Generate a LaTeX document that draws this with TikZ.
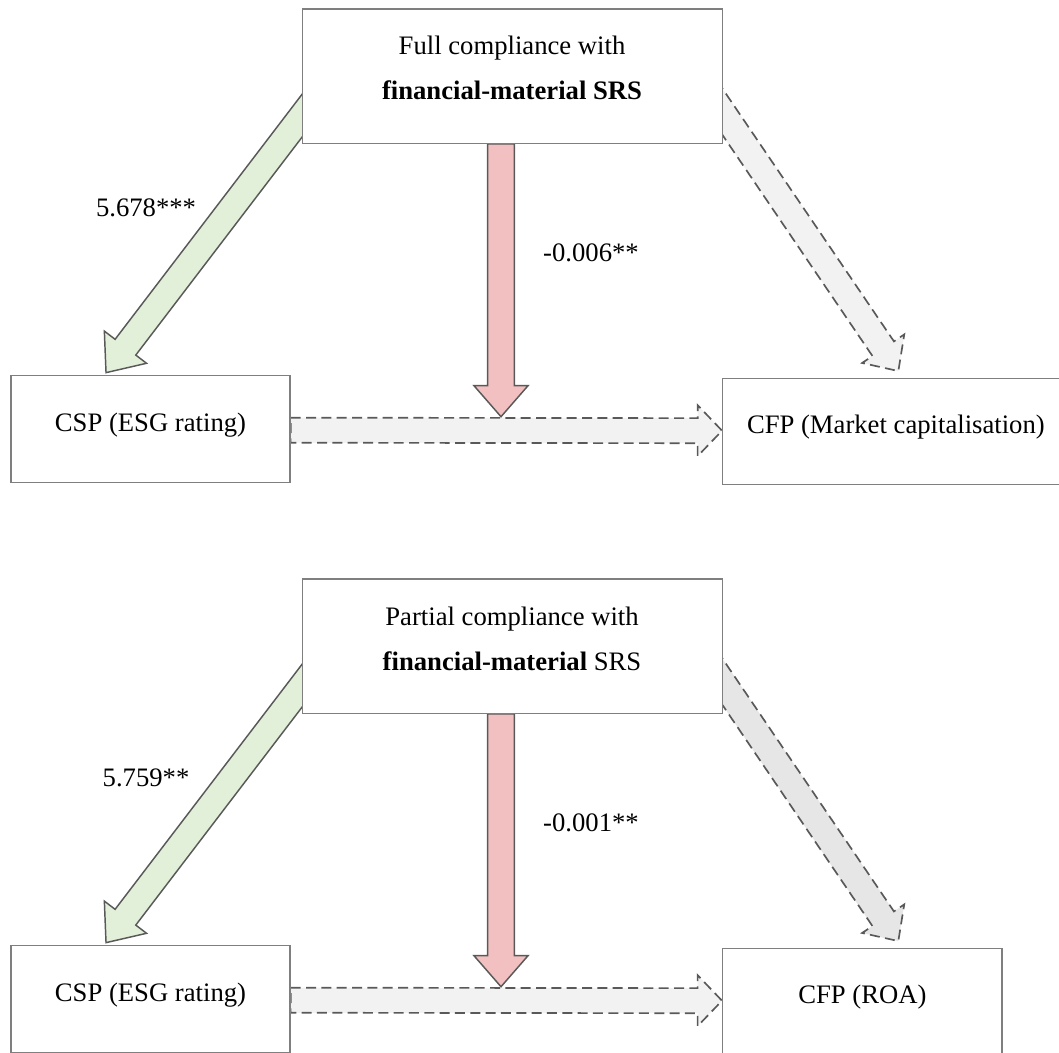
\documentclass[tikz,border=0pt]{standalone}
\usepackage{fontspec}
\setmainfont{Liberation Serif}
\usetikzlibrary{calc}

\definecolor{edgegray}{HTML}{595959}
\definecolor{boxgray}{HTML}{7F7F7F}
\definecolor{greenfill}{HTML}{E2F0D9}
\definecolor{redfill}{HTML}{F2C0C0}
\definecolor{lightfill}{HTML}{F2F2F2}
\definecolor{midfill}{HTML}{E6E6E6}

\pgfdeclarelayer{arrows}
\pgfsetlayers{arrows,main}

% block arrow: style, tail, tip, half shaft width, half head width, head length
\newcommand\blockarrow[6]{%
  \coordinate (ba-base) at ($(#3)!#6!(#2)$);
  \draw[#1] ($(#2)!#4!90:(#3)$) -- ($(ba-base)!#4!90:(#3)$)
    -- ($(ba-base)!#5!90:(#3)$) -- (#3) -- ($(ba-base)!#5!-90:(#3)$)
    -- ($(ba-base)!#4!-90:(#3)$) -- ($(#2)!#4!-90:(#3)$) -- cycle;
}

\tikzset{
  boxnode/.style={draw=boxgray, line width=1pt, fill=white, rectangle, inner sep=0pt},
  celltext/.style={text height=14pt, text depth=10pt},
  plain/.style={inner sep=0pt},
  solidarrow/.style={draw=edgegray, line width=1.1pt, line join=miter},
  dasharrow/.style={solidarrow, line width=1.25pt, dash pattern=on 7.5pt off 4pt},
}

\begin{document}
\begin{tikzpicture}[x=0.75pt, y=-0.75pt, font=\fontsize{20}{24}\selectfont]
\useasboundingbox (0,0) rectangle (1059,1052);

% ---------- full compliance model ----------
\node[boxnode, minimum width=315pt, minimum height=100.7pt] (fullbox) at (512.7,76.2) {};
\node[plain, anchor=base] (fullA) at (512,55) {Full compliance with};
\node[plain, anchor=base] (fullB) at (512,100) {\textbf{financial-material SRS}};
\node[boxnode, celltext, minimum width=209.25pt, minimum height=80.25pt] (esgA) at (150.5,429.2) {CSP (ESG rating)};
\node[boxnode, celltext, minimum width=259.7pt, minimum height=79.5pt] (mcap) at (895.85,431.3) {CFP (Market capitalisation)};

\node[plain, anchor=base] (coefA1) at (146,216.7) {5.678***};
\node[plain, anchor=base] (coefA2) at (591,261.7) {-0.006**};

\coordinate (gA-tail) at ($(fullbox.west)+(49,-24.7)$);
\coordinate (gA-tip) at ($(esgA.north west)+(95.7,-2.4)$);
\coordinate (rA-tail) at ($(fullbox.south)+(-11.7,0)$);
\coordinate (rA-tip) at ($(fullbox.south)+(-11.7,272.7)$);
\coordinate (hA-tail) at ($(esgA.east)+(0,1)$);
\coordinate (hA-tip) at ($(mcap.west)+(0,-0.6)$);
\coordinate (dA-tail) at ($(fullbox.east)+(-42.7,-26)$);
\coordinate (dA-tip) at ($(mcap.north west)+(176.3,-6.6)$);

\begin{pgfonlayer}{arrows}
  \blockarrow{solidarrow, fill=greenfill}{gA-tail}{gA-tip}{9.75pt}{19.9pt}{24pt}
  \blockarrow{dasharrow, fill=lightfill}{dA-tail}{dA-tip}{9.75pt}{19.1pt}{20.25pt}
  \blockarrow{dasharrow, fill=lightfill}{hA-tail}{hA-tip}{9.4pt}{19.1pt}{18.3pt}
  \blockarrow{solidarrow, fill=redfill}{rA-tail}{rA-tip}{10pt}{20.25pt}{23.25pt}
\end{pgfonlayer}

% ---------- partial compliance model ----------
\node[boxnode, minimum width=315pt, minimum height=100.7pt] (partbox) at (512.7,646.2) {};
\node[plain, anchor=base] (partA) at (512,625) {Partial compliance with};
\node[plain, anchor=base] (partB) at (512,670) {\textbf{financial-material} SRS};
\node[boxnode, celltext, minimum width=209.25pt, minimum height=80.25pt] (esgB) at (150.5,999.2) {CSP (ESG rating)};
\node[boxnode, celltext, minimum width=209.5pt, minimum height=79.5pt] (roa) at (862.35,1001.3) {CFP (ROA)};

\node[plain, anchor=base] (coefB1) at (146,786.7) {5.759**};
\node[plain, anchor=base] (coefB2) at (591,831.7) {-0.001**};

\coordinate (gB-tail) at ($(partbox.west)+(49,-24.7)$);
\coordinate (gB-tip) at ($(esgB.north west)+(95.7,-2.4)$);
\coordinate (rB-tail) at ($(partbox.south)+(-11.7,0)$);
\coordinate (rB-tip) at ($(partbox.south)+(-11.7,272.7)$);
\coordinate (hB-tail) at ($(esgB.east)+(0,1)$);
\coordinate (hB-tip) at ($(roa.west)+(0,-0.6)$);
\coordinate (dB-tail) at ($(partbox.east)+(-42.7,-26)$);
\coordinate (dB-tip) at ($(roa.north west)+(176.3,-6.6)$);

\begin{pgfonlayer}{arrows}
  \blockarrow{solidarrow, fill=greenfill}{gB-tail}{gB-tip}{9.75pt}{19.9pt}{24pt}
  \blockarrow{dasharrow, fill=midfill}{dB-tail}{dB-tip}{9.75pt}{19.1pt}{20.25pt}
  \blockarrow{dasharrow, fill=lightfill}{hB-tail}{hB-tip}{9.4pt}{19.1pt}{18.3pt}
  \blockarrow{solidarrow, fill=redfill}{rB-tail}{rB-tip}{10pt}{20.25pt}{23.25pt}
\end{pgfonlayer}
\end{tikzpicture}
\end{document}
